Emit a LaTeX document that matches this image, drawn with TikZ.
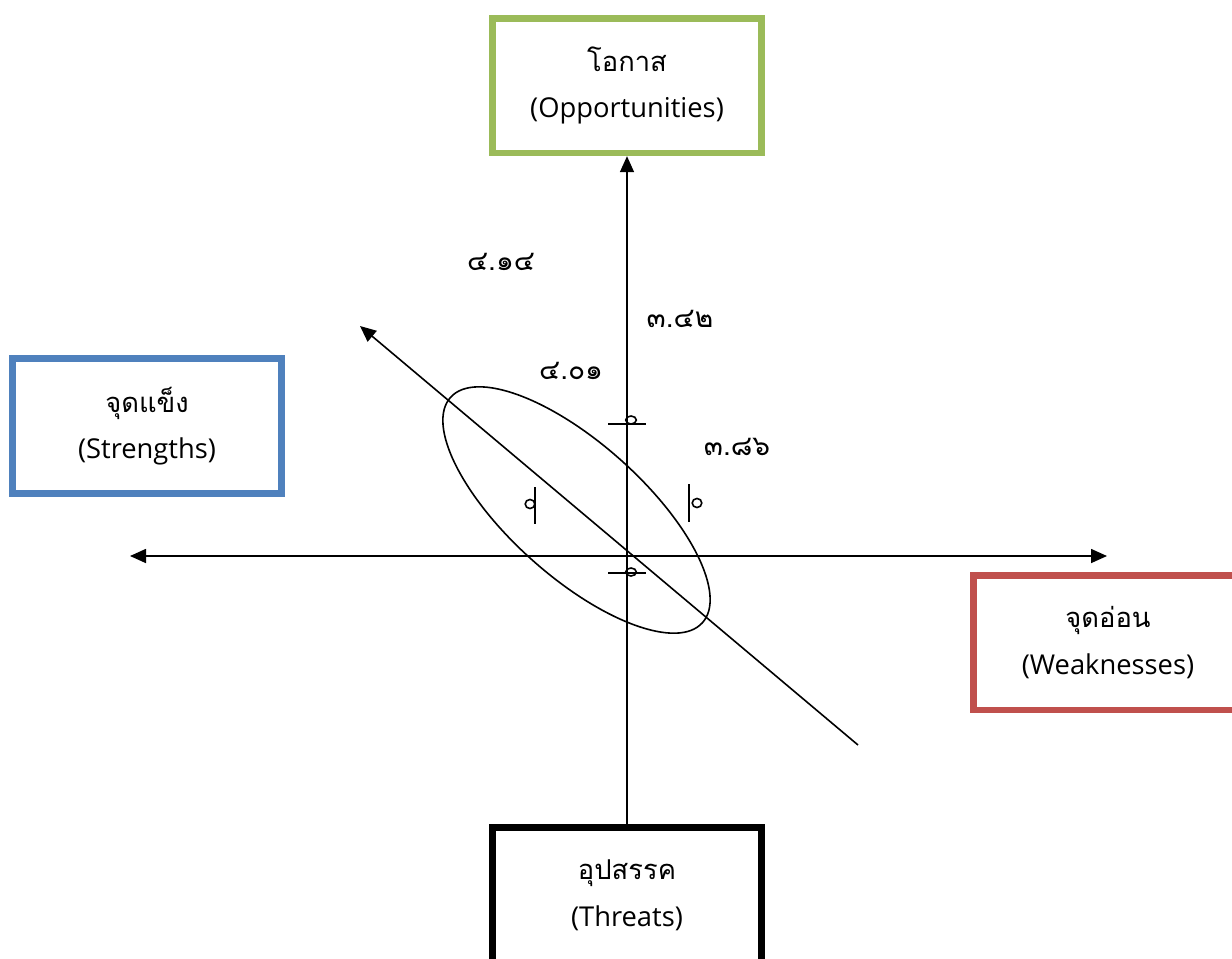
\documentclass[tikz,border=0pt]{standalone}
\usepackage{fontspec}
\setmainfont{Open Sans}
\newfontfamily\thaifont[Script=Thai]{Loma}
\usetikzlibrary{arrows.meta}
\definecolor{oppgreen}{HTML}{9BBB59}
\definecolor{strblue}{HTML}{4F81BD}
\definecolor{weakred}{HTML}{C0504D}

\begin{document}
\begin{tikzpicture}[x=0.75pt, y=-0.75pt, line width=1.2pt,
    swotbox/.style={draw, line width=5pt, fill=white, minimum width=201.75pt, minimum height=101pt, align=center, font=\fontsize{20.5}{35}\selectfont},
    score/.style={font=\thaifont\fontsize{21}{22}\selectfont},
    tip/.style={-{Triangle[length=12pt,width=10.5pt]}},
    twotips/.style={{Triangle[length=12pt,width=10.5pt]}-{Triangle[length=12pt,width=10.5pt]}}]
    \useasboundingbox (0,0) rectangle (1232,958);

    % Boxes for the four sides
    \node[swotbox, draw=oppgreen] (opp) at (627,85.5) {{\thaifont โอกาส}\\(Opportunities)};
    \node[swotbox, draw=strblue] (str) at (147,426) {{\thaifont จุดแข็ง}\\(Strengths)};
    \node[swotbox, draw=weakred] (weak) at (1108,642.5) {{\thaifont จุดอ่อน}\\(Weaknesses)};
    \node[swotbox, draw=black] (thr) at (627,895) {{\thaifont อุปสรรค}\\(Threats)};

    % Axes
    \coordinate (left) at (130,556);
    \coordinate (right) at (1107,556);
    \coordinate (diagtop) at (360,326);
    \coordinate (diagbot) at (858,745);
    \draw[tip] (thr.north) -- (opp.south);
    \draw[twotips] (left) -- (right);
    \draw[tip] (diagbot) -- (diagtop);

    % Ellipse round the scores
    \draw[rotate around={-41.8:(576.5,510)}] (576.5,510) ellipse [x radius=126.75pt, y radius=50.1pt];

    % Tick marks
    \draw (608,424) -- (646,424);
    \draw (631,420) ellipse [x radius=4pt, y radius=3pt];
    \draw (535,487) -- (535,524);
    \draw (530,504) ellipse [x radius=3.6pt, y radius=3.4pt];
    \draw (689,484) -- (689,522);
    \draw (697,503) ellipse [x radius=3.6pt, y radius=3.4pt];
    \draw (608,573) -- (646,573);
    \draw (631,572) ellipse [x radius=4pt, y radius=3pt];

    % Scores
    \node[score] (s1) at (501,262) {๔.๑๔};
    \node[score] (s2) at (680,319) {๓.๔๒};
    \node[score] (s3) at (571,371) {๔.๐๑};
    \node[score] (s4) at (737,447) {๓.๘๖};
\end{tikzpicture}
\end{document}
